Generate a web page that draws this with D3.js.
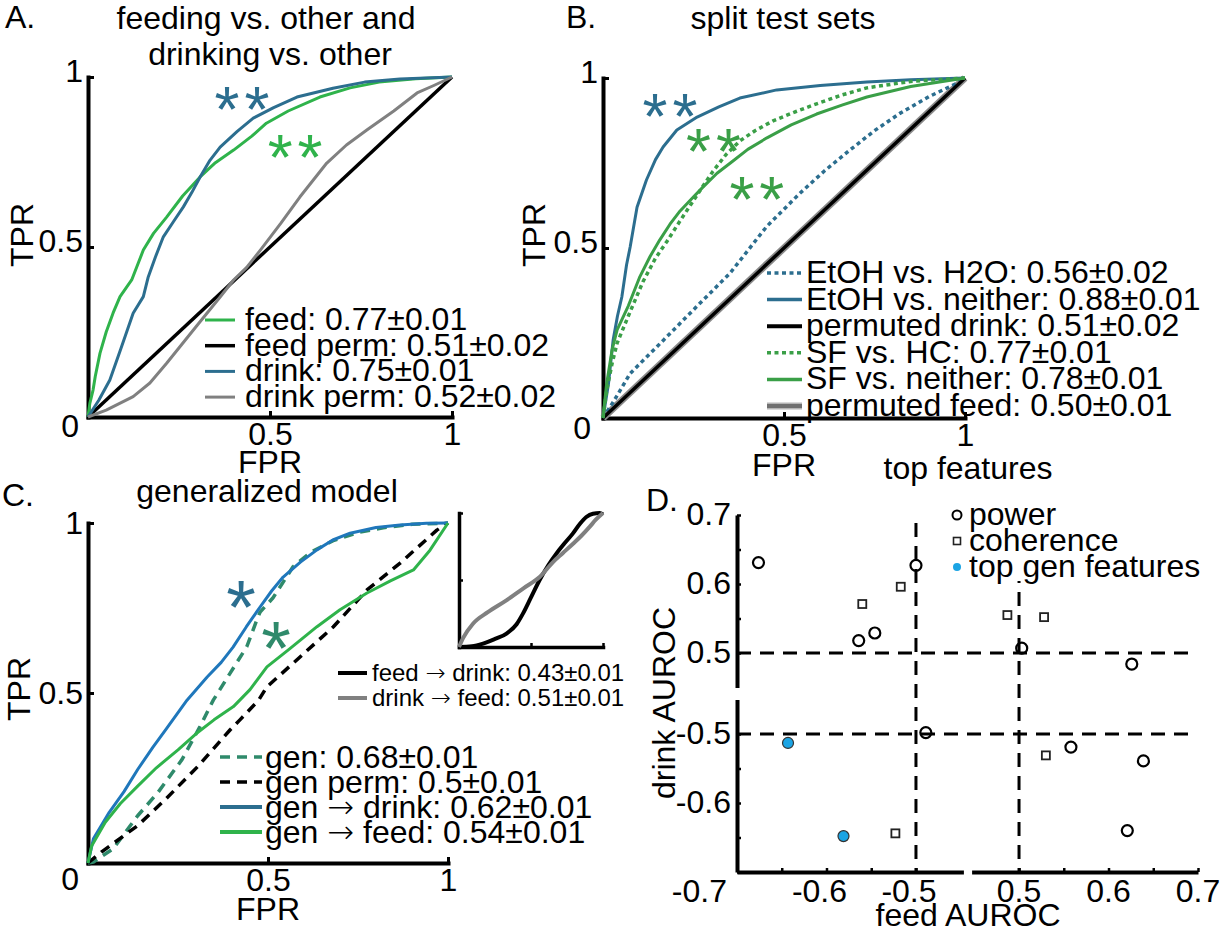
<!DOCTYPE html>
<html><head><meta charset="utf-8">
<script src="https://cdn.jsdelivr.net/npm/d3@7"></script>
<style>body{margin:0;background:#fff}</style>
</head><body><svg id="c" width="1220" height="934" style="background:#fff"></svg>
<script>
const FONT = "'Liberation Sans', Arial, Helvetica, sans-serif";
const ARROW_FONT = "'DejaVu Sans', sans-serif";
// ---------------- DATA ----------------
const rocTicks = [0.5, 1];
// Panel A
const aFeed = [[0,0],[0.005,0.04],[0.014,0.08],[0.02,0.12],[0.033,0.188],[0.05,0.25],[0.069,0.306],[0.088,0.354],[0.12,0.403],[0.152,0.491],[0.18,0.54],[0.216,0.588],[0.26,0.65],[0.308,0.706],[0.35,0.748],[0.40,0.785],[0.45,0.826],[0.49,0.864],[0.55,0.9],[0.637,0.941],[0.72,0.968],[0.80,0.985],[0.9,0.995],[1,1]];
const aFeedPerm = [[0,0],[0.5,0.5],[1,1]];
const aDrink = [[0,0],[0.03,0.05],[0.06,0.109],[0.09,0.2],[0.124,0.305],[0.152,0.354],[0.165,0.41],[0.185,0.47],[0.207,0.53],[0.235,0.575],[0.262,0.618],[0.285,0.66],[0.308,0.706],[0.335,0.755],[0.363,0.794],[0.41,0.84],[0.454,0.879],[0.51,0.91],[0.574,0.941],[0.673,0.967],[0.76,0.985],[0.857,0.994],[1,1]];
const aDrinkPerm = [[0,0],[0.05,0.02],[0.124,0.06],[0.17,0.1],[0.216,0.158],[0.3,0.27],[0.363,0.353],[0.40,0.403],[0.436,0.44],[0.473,0.49],[0.53,0.57],[0.582,0.647],[0.656,0.747],[0.71,0.8],[0.766,0.844],[0.84,0.9],[0.904,0.953],[0.95,0.975],[1,1]];
const aLabels = ["feed: 0.77±0.01","feed perm: 0.51±0.02","drink: 0.75±0.01","drink perm: 0.52±0.02"];
// Panel B
const bEtohH2O = [[0,0],[0.03,0.05],[0.075,0.131],[0.167,0.229],[0.259,0.328],[0.351,0.426],[0.452,0.563],[0.544,0.661],[0.61,0.725],[0.682,0.788],[0.75,0.845],[0.82,0.896],[0.9,0.945],[0.977,0.984],[1,1]];
const bEtohNeither = [[0,0],[0.015,0.1],[0.028,0.229],[0.04,0.3],[0.052,0.356],[0.065,0.45],[0.075,0.503],[0.094,0.62],[0.12,0.7],[0.145,0.76],[0.166,0.797],[0.204,0.847],[0.26,0.885],[0.32,0.915],[0.378,0.941],[0.48,0.965],[0.6,0.978],[0.729,0.988],[0.85,0.995],[1,1]];
const bPermDrink = [[0,0],[0.5,0.5],[1,1]];
const bSfHc = [[0,0],[0.01,0.08],[0.025,0.16],[0.039,0.22],[0.07,0.3],[0.11,0.4],[0.145,0.47],[0.177,0.52],[0.21,0.575],[0.249,0.638],[0.275,0.68],[0.304,0.726],[0.34,0.775],[0.378,0.815],[0.42,0.845],[0.47,0.874],[0.53,0.9],[0.59,0.924],[0.66,0.95],[0.729,0.971],[0.85,0.99],[1,1]];
const bSfNeither = [[0,0],[0.01,0.1],[0.025,0.2],[0.039,0.259],[0.07,0.33],[0.102,0.416],[0.13,0.475],[0.157,0.524],[0.185,0.57],[0.213,0.609],[0.245,0.645],[0.276,0.679],[0.315,0.72],[0.359,0.756],[0.4,0.79],[0.453,0.824],[0.52,0.862],[0.59,0.894],[0.66,0.92],[0.729,0.944],[0.85,0.975],[1,1]];
const bPermFeed = [[0,0],[0.5,0.5],[1,1]];
const bLabels = ["EtOH vs. H2O: 0.56±0.02","EtOH vs. neither: 0.88±0.01","permuted drink: 0.51±0.02","SF vs. HC: 0.77±0.01","SF vs. neither: 0.78±0.01","permuted feed: 0.50±0.01"];
// Panel C
const cGen = [[0,0],[0.015,0.003],[0.07,0.042],[0.138,0.139],[0.194,0.207],[0.261,0.304],[0.311,0.401],[0.348,0.479],[0.394,0.557],[0.441,0.636],[0.469,0.715],[0.478,0.738],[0.514,0.78],[0.57,0.872],[0.62,0.915],[0.681,0.948],[0.75,0.972],[0.82,0.986],[0.9,0.996],[1,1]];
const cGenPerm = [[0,0],[0.037,0.032],[0.138,0.11],[0.216,0.188],[0.306,0.285],[0.395,0.392],[0.422,0.421],[0.474,0.479],[0.497,0.518],[0.589,0.606],[0.681,0.694],[0.775,0.803],[0.867,0.882],[0.969,0.979],[1,1]];
const cGenDrink = [[0,0],[0.015,0.071],[0.059,0.149],[0.1,0.21],[0.138,0.275],[0.18,0.34],[0.216,0.392],[0.275,0.479],[0.331,0.547],[0.37,0.59],[0.403,0.635],[0.44,0.695],[0.478,0.753],[0.51,0.8],[0.542,0.841],[0.59,0.885],[0.636,0.921],[0.68,0.95],[0.728,0.97],[0.8,0.987],[0.867,0.994],[0.94,0.999],[1,1]];
const cGenFeed = [[0,0],[0.01,0.05],[0.048,0.12],[0.09,0.175],[0.138,0.226],[0.19,0.28],[0.25,0.333],[0.3,0.38],[0.35,0.421],[0.404,0.46],[0.45,0.51],[0.497,0.577],[0.56,0.63],[0.636,0.695],[0.7,0.745],[0.775,0.794],[0.84,0.83],[0.904,0.862],[0.95,0.92],[1,1]];
const cLabels = ["gen: 0.68±0.01","gen perm: 0.5±0.01","gen → drink: 0.62±0.01","gen → feed: 0.54±0.01"];
const insetFeedToDrink = [[0,0],[0.09,0.005],[0.167,0.025],[0.25,0.06],[0.33,0.1],[0.4,0.17],[0.444,0.249],[0.5,0.37],[0.56,0.5],[0.62,0.61],[0.676,0.697],[0.73,0.77],[0.79,0.846],[0.84,0.92],[0.884,0.97],[0.93,0.995],[0.977,1.0],[1,0.99]];
const insetDrinkToFeed = [[0,0],[0.03,0.07],[0.097,0.174],[0.2,0.26],[0.329,0.348],[0.45,0.44],[0.56,0.522],[0.653,0.634],[0.72,0.7],[0.792,0.771],[0.85,0.83],[0.907,0.896],[0.95,0.95],[1,1]];
const insetLabels = ["feed → drink: 0.43±0.01","drink → feed: 0.51±0.01"];
// Panel D
const powerFeed  = [-0.676,-0.500,-0.564,-0.546,0.503,0.626,-0.489,0.558,0.639,0.621];
const powerDrink = [0.631,0.627,0.518,0.529,0.507,0.484,-0.498,-0.519,-0.539,-0.640];
const coherenceFeed  = [-0.517,-0.560,0.487,0.528,-0.523,0.530];
const coherenceDrink = [0.596,0.571,0.555,0.552,-0.644,-0.531];
const topGenFeed  = [-0.643,-0.581];
const topGenDrink = [-0.513,-0.648];
const dLegend = ["power","coherence","top gen features"];
const dYTicksTop = [0.5,0.55,0.6,0.65,0.7];
const dYTicksBot = [-0.7,-0.65,-0.6,-0.55,-0.5];
const dYLabels = [0.7,0.6,0.5,-0.5,-0.6];
const dXTicksL = [-0.7,-0.65,-0.6,-0.55,-0.5];
const dXTicksR = [0.5,0.55,0.6,0.65,0.7];
const dXLabels = [-0.7,-0.6,-0.5,0.5,0.6,0.7];

// ---------------- COLOURS ----------------
const C_BLUE = "#2c6e8f", C_GREEN = "#2fb34b", C_GREEN_B = "#3a9f47", C_GRAY = "#808080",
      C_GENBLUE = "#1f77bb", C_TEAL = "#2f8a6b", C_DBLUE = "#1ba4e4";

const svg = d3.select("#c");
const fmt = d3.format("~g");

function txt(g, s, x, y, o = {}) {
  const t = g.append("text").attr("x", x).attr("y", y)
    .attr("font-family", FONT).attr("font-size", o.fs || 32).attr("fill", o.fill || "#000")
    .attr("text-anchor", o.anchor || "start");
  const parts = s.split("→");
  parts.forEach((p, i) => {
    if (i > 0) t.append("tspan").attr("font-family", ARROW_FONT).attr("font-weight", 300).text("→");
    t.append("tspan").text(p);
  });
  if (o.rot) t.attr("transform", `rotate(${o.rot},${x},${y})`);
  if (o.ls) t.attr("letter-spacing", o.ls);
  return t;
}
function styleAxis(g, fs, dw, tw) {
  g.attr("font-size", fs).attr("font-family", FONT);
  g.select(".domain").attr("stroke", "#000").attr("stroke-width", dw).attr("stroke-linecap", "square");
  g.selectAll(".tick line").attr("stroke", "#000").attr("stroke-width", tw);
  g.selectAll(".tick text").attr("fill", "#000");
}

function rocPanel(p) {
  const x = d3.scaleLinear([0, 1], p.xr), y = d3.scaleLinear([0, 1], p.yr);
  const g = svg.append("g");
  const fs = p.fs || 32;
  const ya = g.append("g").attr("transform", `translate(${x(0)},0)`)
    .call(d3.axisLeft(y).tickValues(p.ticks).tickSizeInner(-(p.tick || 6)).tickSizeOuter(0)
      .tickPadding(p.pad || 5).tickFormat(p.noLabels ? "" : fmt));
  styleAxis(ya, fs, p.aw || 4, p.tw || 3);
  ya.selectAll(".tick text").attr("dy", p.ydy || "0.15em");
  const xa = g.append("g").attr("transform", `translate(0,${y(0)})`)
    .call(d3.axisBottom(x).tickValues(p.ticks).tickSizeInner(-(p.tick || 6)).tickSizeOuter(0)
      .tickPadding(5).tickFormat(p.noLabels ? "" : fmt));
  styleAxis(xa, fs, p.aw || 4, p.tw || 3);
  const line = d3.line().x(d => x(d[0])).y(d => y(d[1])).curve(p.curve || d3.curveLinear);
  p.series.forEach(s => {
    g.append("path").datum(s.data).attr("d", line).attr("fill", "none")
      .attr("stroke", s.color).attr("stroke-width", s.w).attr("stroke-linejoin", "round")
      .attr("stroke-dasharray", s.dash || null);
  });
  if (!p.noLabels) {
    txt(g, "0", x(0) - p.zeroDx, y(0) + p.zeroDy, { anchor: "end" });
    txt(g, "FPR", x(0.5), y(0) + p.fprDy, { anchor: "middle" });
    txt(g, "TPR", x(0) - p.tprDx, y(0.5) - p.tprUp, { anchor: "middle", rot: -90 });
  }
  (p.stars || []).forEach(s => {
    txt(g, s.t, x(s.fpr) + (s.t.length > 1 ? s.ls / 2 : 0), y(s.tpr) + s.fs * 0.575,
      { anchor: "middle", fill: s.color, fs: s.fs, ls: s.t.length > 1 ? s.ls : null });
  });
  return g;
}

function legend(items, o) {
  const g = svg.append("g");
  items.forEach((it, i) => {
    const yy = o.y0 + i * o.step;
    if (it.under) g.append("line").attr("x1", o.x0).attr("x2", o.x1).attr("y1", yy).attr("y2", yy)
      .attr("stroke", it.under).attr("stroke-width", it.uw);
    g.append("line").attr("x1", o.x0).attr("x2", o.x1).attr("y1", yy).attr("y2", yy)
      .attr("stroke", it.color).attr("stroke-width", it.w).attr("stroke-dasharray", it.dash || null);
    txt(g, it.label, o.tx, yy + o.dy, { fs: o.fs });
  });
}

// ---------------- PANEL A ----------------
const aSeries = [
  { data: aFeed, color: C_GREEN, w: 3 },
  { data: aFeedPerm, color: "#000", w: 3.5 },
  { data: aDrink, color: C_BLUE, w: 3 },
  { data: aDrinkPerm, color: C_GRAY, w: 3 }
];
rocPanel({ xr: [88, 452], yr: [417, 77], ticks: rocTicks, series: aSeries,
  zeroDx: 9, zeroDy: 20, fprDy: 56, tprDx: 55, tprUp: 12,
  stars: [{ t: "**", fpr: 0.423, tpr: 0.947, color: C_BLUE, fs: 64, ls: 5 },
          { t: "**", fpr: 0.569, tpr: 0.806, color: C_GREEN, fs: 64, ls: 5 }] });
legend(aSeries.map((s, i) => ({ ...s, label: aLabels[i], dash: null })),
  { x0: 205, x1: 235, tx: 245, y0: 320, step: 25.7, dy: 10, fs: 32 });
txt(svg, "A.", 5, 28);
txt(svg, "feeding vs. other and", 266, 29, { anchor: "middle" });
txt(svg, "drinking vs. other", 270, 65, { anchor: "middle" });

// ---------------- PANEL B ----------------
const bSeries = [
  { data: bPermFeed, color: "#8a8a8a", w: 7 },
  { data: bEtohH2O, color: C_BLUE, w: 3.5, dash: "4,3.5" },
  { data: bEtohNeither, color: C_BLUE, w: 3 },
  { data: bPermDrink, color: "#000", w: 3.5 },
  { data: bSfHc, color: C_GREEN_B, w: 3.5, dash: "4,3.5" },
  { data: bSfNeither, color: C_GREEN_B, w: 3 }
];
rocPanel({ xr: [603, 965], yr: [418, 78], ticks: rocTicks, series: bSeries,
  zeroDx: 12, zeroDy: 21, fprDy: 58, tprDx: 58, tprUp: 13,
  stars: [{ t: "**", fpr: 0.185, tpr: 0.929, color: C_BLUE, fs: 64, ls: 5 },
          { t: "**", fpr: 0.305, tpr: 0.826, color: C_GREEN_B, fs: 64, ls: 5 },
          { t: "**", fpr: 0.425, tpr: 0.685, color: C_GREEN_B, fs: 64, ls: 5 }] });
legend([
  { color: C_BLUE, w: 3.5, dash: "4,3.5", label: bLabels[0] },
  { color: C_BLUE, w: 3.5, label: bLabels[1] },
  { color: "#000", w: 4, label: bLabels[2] },
  { color: C_GREEN_B, w: 3.5, dash: "4,3.5", label: bLabels[3] },
  { color: C_GREEN_B, w: 3.5, label: bLabels[4] },
  { color: "#707070", w: 4, under: "#b5b5b5", uw: 7, label: bLabels[5] }
], { x0: 767, x1: 802, tx: 806, y0: 273, step: 26.6, dy: 10, fs: 32 });
txt(svg, "B.", 566, 28);
txt(svg, "split test sets", 783, 29, { anchor: "middle" });

// ---------------- PANEL C ----------------
const cSeries = [
  { data: cGen, color: C_TEAL, w: 3.5, dash: "10,7" },
  { data: cGenPerm, color: "#000", w: 3.5, dash: "10,7" },
  { data: cGenDrink, color: C_GENBLUE, w: 3 },
  { data: cGenFeed, color: C_GREEN, w: 3 }
];
rocPanel({ xr: [88, 448], yr: [863, 523], ticks: rocTicks, series: cSeries, ydy: "0.33em",
  zeroDx: 9, zeroDy: 27, fprDy: 57, tprDx: 58, tprUp: 4,
  stars: [{ t: "*", fpr: 0.425, tpr: 0.806, color: C_BLUE, fs: 76, ls: 0 },
          { t: "*", fpr: 0.522, tpr: 0.685, color: C_TEAL, fs: 76, ls: 0 }] });
legend([
  { color: C_TEAL, w: 3.5, dash: "10,7", label: cLabels[0] },
  { color: "#000", w: 3.5, dash: "10,7", label: cLabels[1] },
  { color: "#2c6e8f", w: 4, label: cLabels[2] },
  { color: C_GREEN, w: 4, label: cLabels[3] }
], { x0: 220, x1: 262, tx: 265, y0: 757, step: 25, dy: 11, fs: 32 });
txt(svg, "C.", 2, 506);
txt(svg, "generalized model", 267, 502, { anchor: "middle" });
// inset
rocPanel({ xr: [459, 603], yr: [647, 513], ticks: rocTicks, noLabels: true, tick: 4, aw: 3.5, tw: 2.5,
  curve: d3.curveMonotoneX,
  series: [{ data: insetFeedToDrink, color: "#000", w: 4 }, { data: insetDrinkToFeed, color: C_GRAY, w: 4 }] });
legend([
  { color: "#000", w: 4, label: insetLabels[0] },
  { color: C_GRAY, w: 4, label: insetLabels[1] }
], { x0: 338, x1: 367, tx: 372, y0: 673, step: 25, dy: 8, fs: 24 });

// ---------------- PANEL D ----------------
const gD = svg.append("g");
const xL = d3.scaleLinear([-0.7, -0.447], [737, 963.4]);
const xR = d3.scaleLinear([0.447, 0.7], [971.6, 1198]);
const yT = d3.scaleLinear([0.45, 0.7], [687.5, 515]);
const yB = d3.scaleLinear([-0.7, -0.45], [872, 699.5]);
const xD = f => f < 0 ? xL(f) : xR(f);
const yD = v => v > 0 ? yT(v) : yB(v);
const dash = "14,9";
[-0.5, 0.5].forEach(v => gD.append("line").attr("x1", xD(v)).attr("x2", xD(v)).attr("y1", yT(0.7) + 8).attr("y2", yB(-0.7))
  .attr("stroke", "#000").attr("stroke-width", 3).attr("stroke-dasharray", dash));
[0.5, -0.5].forEach(v => gD.append("line").attr("x1", xL(-0.7)).attr("x2", xR(0.695)).attr("y1", yD(v)).attr("y2", yD(v))
  .attr("stroke", "#000").attr("stroke-width", 3).attr("stroke-dasharray", dash));
function dAxis(axis, tr) {
  const a = gD.append("g").attr("transform", tr).call(axis);
  styleAxis(a, 32, 4, 2.5);
  a.select(".domain").attr("stroke-linecap", "butt");
  return a;
}
const dLab = d => dYLabels.includes(d) ? d.toFixed(1) : "";
const ayT = dAxis(d3.axisLeft(yT).tickValues(dYTicksTop).tickSizeInner(-4).tickSizeOuter(0).tickPadding(6).tickFormat(dLab), `translate(${xL(-0.7)},0)`);
const ayB = dAxis(d3.axisLeft(yB).tickValues(dYTicksBot).tickSizeInner(-4).tickSizeOuter(0).tickPadding(6).tickFormat(dLab), `translate(${xL(-0.7)},0)`);
[ayT, ayB].forEach(a => a.selectAll(".tick text").attr("dy", "0.3em"));
dAxis(d3.axisBottom(xL).tickValues(dXTicksL).tickSizeInner(-4).tickSizeOuter(0).tickFormat(""), `translate(0,${yB(-0.7)})`);
dAxis(d3.axisBottom(xR).tickValues(dXTicksR).tickSizeInner(-4).tickSizeOuter(0).tickFormat(""), `translate(0,${yB(-0.7)})`);
dXLabels.forEach(v => {
  const first = v === d3.min(dXLabels);
  txt(gD, v.toFixed(1), first ? xD(v) - 10 : xD(v) - (v < 0 ? 7 : 0), yB(-0.7) + 30, { anchor: first ? "end" : "middle" });
});
txt(gD, "feed AUROC", 968, 926, { anchor: "middle" });
txt(gD, "drink AUROC", 675, 703, { anchor: "middle", rot: -90 });
gD.append("rect").attr("x", 945).attr("y", 497).attr("width", 270).attr("height", 84).attr("fill", "#fff");
powerFeed.forEach((f, i) => gD.append("circle").attr("cx", xD(f)).attr("cy", yD(powerDrink[i])).attr("r", 5.5)
  .attr("fill", "none").attr("stroke", "#000").attr("stroke-width", 2.2));
coherenceFeed.forEach((f, i) => gD.append("rect").attr("x", xD(f) - 4).attr("y", yD(coherenceDrink[i]) - 4)
  .attr("width", 8).attr("height", 8).attr("fill", "none").attr("stroke", "#222").attr("stroke-width", 1.8));
topGenFeed.forEach((f, i) => gD.append("circle").attr("cx", xD(f)).attr("cy", yD(topGenDrink[i])).attr("r", 5.5)
  .attr("fill", C_DBLUE).attr("stroke", "#333").attr("stroke-width", 1.2));
const lx = 957, ly0 = 515, lstep = 26;
gD.append("circle").attr("cx", lx).attr("cy", ly0).attr("r", 4.5).attr("fill", "none").attr("stroke", "#000").attr("stroke-width", 2);
gD.append("rect").attr("x", lx - 3.5).attr("y", ly0 + lstep - 3.5).attr("width", 7).attr("height", 7).attr("fill", "none").attr("stroke", "#222").attr("stroke-width", 1.6);
gD.append("circle").attr("cx", lx).attr("cy", ly0 + 2 * lstep).attr("r", 4).attr("fill", C_DBLUE);
dLegend.forEach((s, i) => txt(gD, s, 969, ly0 + i * lstep + 10));
txt(svg, "D.", 646, 511);
txt(svg, "top features", 968, 479, { anchor: "middle" });
</script>
</body></html>
